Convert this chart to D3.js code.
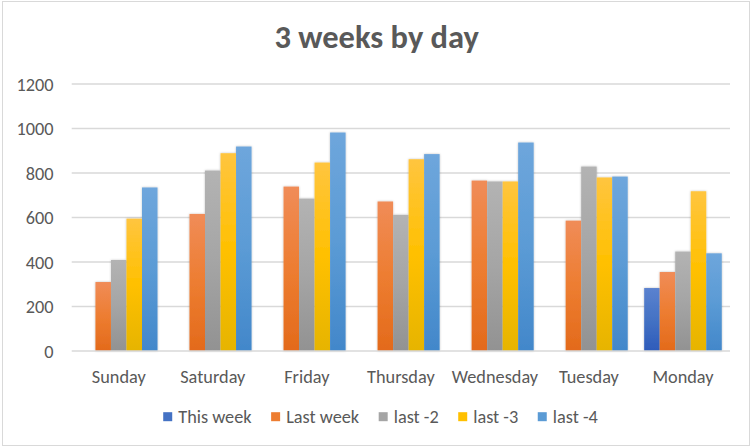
<!DOCTYPE html>
<html>
<head>
<meta charset="utf-8">
<script src="https://cdn.jsdelivr.net/npm/d3@7"></script>
<style>
  html, body { margin: 0; padding: 0; background: #fff; }
  svg { display: block; }
  text { font-family: Carlito, Calibri, Lato, sans-serif; fill: #595959; }
</style>
</head>
<body>
<svg id="chart" width="752" height="447"></svg>
<script>
const title = "3 weeks by day";
const days = ["Sunday", "Saturday", "Friday", "Thursday", "Wednesday", "Tuesday", "Monday"];
const seriesNames = ["This week", "Last week", "last -2", "last -3", "last -4"];
const thisWeek = [0, 0, 0, 0, 0, 0, 283];
const lastWeek = [310, 616, 739, 672, 766, 586, 355];
const last2 = [409, 811, 685, 612, 762, 829, 447];
const last3 = [595, 889, 847, 862, 762, 780, 718];
const last4 = [735, 919, 982, 885, 937, 784, 439];
const yTicks = [0, 200, 400, 600, 800, 1000, 1200];
const seriesColors = ["#4472C4", "#ED7D31", "#A5A5A5", "#FFC000", "#5B9BD5"];
const gradTop = ["#5B82CF", "#F08C58", "#B3B3B3", "#FFC53F", "#6EA6DC"];
const gradBottom = ["#2E5BBA", "#E36A1B", "#929292", "#E6B400", "#4287CA"];

const seriesValues = [thisWeek, lastWeek, last2, last3, last4];

const svg = d3.select("#chart");
const W = 752, H = 447;
const plot = { left: 71.7, right: 730, top: 84, bottom: 351 };
const FONT = "Carlito, Calibri, Lato, sans-serif";
const LABEL_SIZE = 18.3;

// border
svg.append("rect")
  .attr("x", 2.5).attr("y", 1.5).attr("width", W - 5).attr("height", H - 3)
  .attr("fill", "#fff").attr("stroke", "#d9d9d9").attr("stroke-width", 1);

const defs = svg.append("defs");
seriesNames.forEach((s, i) => {
  const g = defs.append("linearGradient").attr("id", "grad" + i)
    .attr("x1", 0).attr("y1", 0).attr("x2", 0).attr("y2", 1);
  g.append("stop").attr("offset", "0%").attr("stop-color", gradTop[i]);
  g.append("stop").attr("offset", "50%").attr("stop-color", seriesColors[i]);
  g.append("stop").attr("offset", "100%").attr("stop-color", gradBottom[i]);
});
const f = defs.append("filter").attr("id", "shadow")
  .attr("x", "-30%").attr("y", "-10%").attr("width", "160%").attr("height", "120%");
f.append("feDropShadow").attr("dx", 0).attr("dy", 0).attr("stdDeviation", 1.2)
  .attr("flood-color", "#000").attr("flood-opacity", 0.25);

const x = d3.scaleBand().domain(days).range([plot.left, plot.right])
  .paddingInner(0.175).paddingOuter(0.0875);
const xs = d3.scaleBand().domain(seriesNames).range([0, x.bandwidth()]).padding(0);
const y = d3.scaleLinear().domain([0, 1200]).range([plot.bottom, plot.top]);

// gridlines
svg.append("g").selectAll("line").data(yTicks.filter(t => t > 0)).join("line")
  .attr("x1", plot.left).attr("x2", plot.right)
  .attr("y1", d => y(d)).attr("y2", d => y(d))
  .attr("stroke", "#d9d9d9").attr("stroke-width", 1.3);

// y labels
const yAxis = d3.axisLeft(y).tickValues(yTicks).tickFormat(d3.format("d")).tickSize(0).tickPadding(0);
const yg = svg.append("g").attr("transform", `translate(${53.5},0)`).call(yAxis);
yg.select(".domain").remove();
yg.selectAll("text").attr("font-size", LABEL_SIZE).style("fill", "#595959")
  .attr("font-family", FONT).attr("dy", "0.35em");

// bars
const data = [];
days.forEach((d, di) => seriesNames.forEach((s, si) => {
  data.push({ day: d, series: s, si: si, value: seriesValues[si][di] });
}));
svg.append("g").attr("filter", "url(#shadow)").selectAll("rect")
  .data(data.filter(d => d.value > 0)).join("rect")
  .attr("x", d => x(d.day) + xs(d.series))
  .attr("width", xs.bandwidth())
  .attr("y", d => y(d.value))
  .attr("height", d => y(0) - y(d.value))
  .attr("fill", d => `url(#grad${d.si})`);

// x axis line
svg.append("line").attr("x1", plot.left).attr("x2", plot.right)
  .attr("y1", y(0)).attr("y2", y(0)).attr("stroke", "#d9d9d9").attr("stroke-width", 1.3);

// x labels
const xAxis = d3.axisBottom(x).tickSize(0).tickPadding(0);
const xg = svg.append("g").attr("transform", `translate(0,${377})`).call(xAxis);
xg.select(".domain").remove();
xg.selectAll("text").attr("font-size", LABEL_SIZE).style("fill", "#595959")
  .attr("font-family", FONT).attr("dy", "0.35em");

// title
svg.append("text").attr("x", 376.7).attr("y", 48.3).attr("text-anchor", "middle")
  .attr("font-size", 32.5).attr("font-weight", "bold").text(title);

// legend
const lg = svg.append("g");
const items = lg.selectAll("g").data(seriesNames).join("g");
items.append("rect").attr("width", 9).attr("height", 9).attr("y", -4.5)
  .attr("fill", (d, i) => seriesColors[i]);
items.append("text").attr("x", 15).attr("dy", "0.35em").attr("font-size", LABEL_SIZE).text(d => d);
let cx = 0;
const pos = [];
items.each(function () {
  pos.push(cx);
  const w = d3.select(this).select("text").node().getComputedTextLength();
  cx += 15 + w + 19.5;
});
const total = cx - 19.5;
const startX = 380.5 - total / 2;
items.attr("transform", (d, i) => `translate(${startX + pos[i]},${416.7})`);
</script>
</body>
</html>
